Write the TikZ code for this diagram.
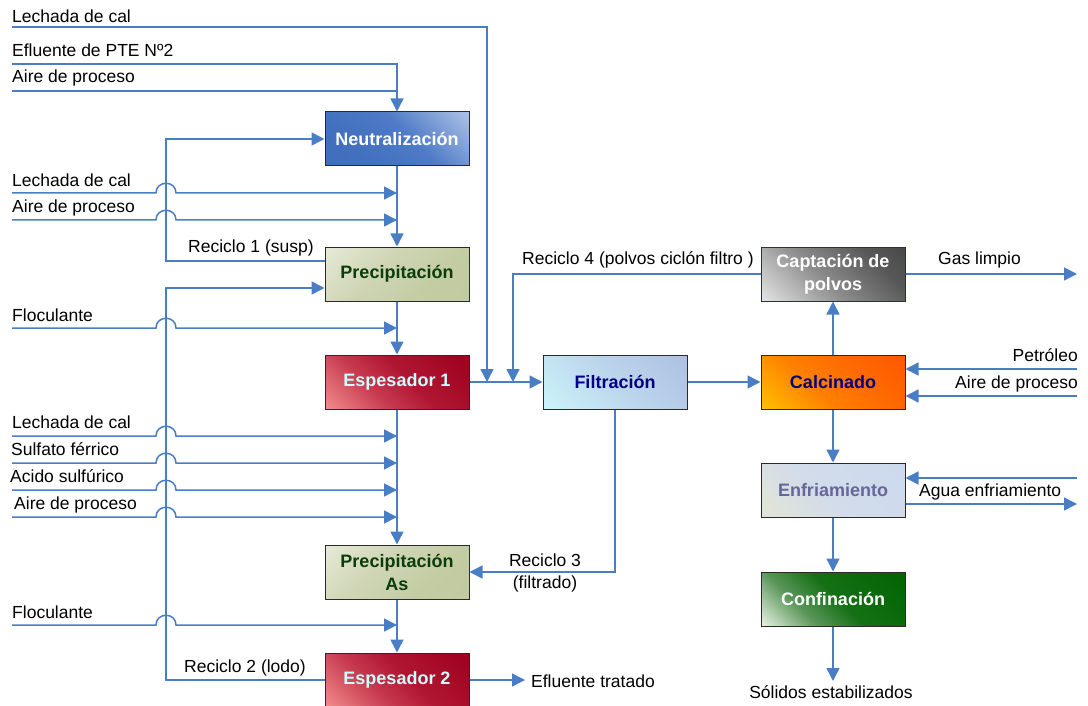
\documentclass[tikz,border=0pt]{standalone}
\usepackage{fontspec}
\setmainfont{Liberation Sans}
\usetikzlibrary{arrows.meta}
\definecolor{lc}{HTML}{4A7EC4}
\definecolor{preT}{HTML}{0A3D0A}
\definecolor{espT}{HTML}{CCFFFF}
\definecolor{navyT}{HTML}{000080}
\definecolor{capD}{HTML}{28286E}
\definecolor{enfT}{HTML}{66669A}
\definecolor{boxD}{HTML}{2A2A2A}
\pgfdeclareverticalshading{shNeu}{100bp}{color(0bp)=(rgb,255:red,62;green,108;blue,186); color(30bp)=(rgb,255:red,66;green,112;blue,190); color(55bp)=(rgb,255:red,78;green,122;blue,198); color(85bp)=(rgb,255:red,172;green,194;blue,230); color(100bp)=(rgb,255:red,180;green,200;blue,234)}
\pgfdeclareverticalshading{shPre}{100bp}{color(0bp)=(rgb,255:red,192;green,200;blue,158); color(35bp)=(rgb,255:red,196;green,204;blue,164); color(60bp)=(rgb,255:red,208;green,214;blue,182); color(85bp)=(rgb,255:red,230;green,234;blue,214); color(100bp)=(rgb,255:red,234;green,237;blue,220)}
\pgfdeclareverticalshading{shEsp}{100bp}{color(0bp)=(rgb,255:red,245;green,148;blue,148); color(15bp)=(rgb,255:red,242;green,140;blue,140); color(38bp)=(rgb,255:red,200;green,60;blue,80); color(55bp)=(rgb,255:red,176;green,22;blue,50); color(85bp)=(rgb,255:red,158;green,0;blue,30); color(100bp)=(rgb,255:red,156;green,0;blue,28)}
\pgfdeclareverticalshading{shFil}{100bp}{color(0bp)=(rgb,255:red,206;green,247;blue,250); color(15bp)=(rgb,255:red,204;green,244;blue,250); color(50bp)=(rgb,255:red,188;green,214;blue,236); color(85bp)=(rgb,255:red,174;green,192;blue,226); color(100bp)=(rgb,255:red,172;green,190;blue,225)}
\pgfdeclareverticalshading{shCap}{100bp}{color(0bp)=(rgb,255:red,235;green,235;blue,235); color(15bp)=(rgb,255:red,228;green,228;blue,228); color(45bp)=(rgb,255:red,140;green,140;blue,140); color(70bp)=(rgb,255:red,88;green,88;blue,88); color(85bp)=(rgb,255:red,72;green,72;blue,72); color(100bp)=(rgb,255:red,70;green,70;blue,70)}
\pgfdeclareverticalshading{shCal}{100bp}{color(0bp)=(rgb,255:red,255;green,198;blue,0); color(15bp)=(rgb,255:red,255;green,192;blue,0); color(40bp)=(rgb,255:red,255;green,130;blue,0); color(60bp)=(rgb,255:red,255;green,108;blue,0); color(85bp)=(rgb,255:red,255;green,88;blue,0); color(100bp)=(rgb,255:red,255;green,85;blue,0)}
\pgfdeclareverticalshading{shEnf}{100bp}{color(0bp)=(rgb,255:red,228;green,230;blue,210); color(15bp)=(rgb,255:red,226;green,229;blue,212); color(45bp)=(rgb,255:red,210;green,220;blue,234); color(85bp)=(rgb,255:red,204;green,217;blue,238); color(100bp)=(rgb,255:red,204;green,217;blue,238)}
\pgfdeclareverticalshading{shCon}{100bp}{color(0bp)=(rgb,255:red,240;green,248;blue,236); color(15bp)=(rgb,255:red,232;green,242;blue,226); color(35bp)=(rgb,255:red,90;green,150;blue,90); color(52bp)=(rgb,255:red,20;green,112;blue,20); color(85bp)=(rgb,255:red,0;green,100;blue,0); color(100bp)=(rgb,255:red,0;green,100;blue,0)}
\tikzset{
  pipe/.style={draw=lc, line width=1.5pt},
  flow/.style={pipe, -{Triangle[length=13pt,width=13pt]}},
  box/.style={draw=boxD, line width=1pt, minimum width=144pt, minimum height=54pt,
    inner sep=0pt, align=center, font=\bfseries\fontsize{18}{23}\selectfont},
  lab/.style={inner sep=0pt, anchor=base west, font=\fontsize{17.5}{21}\selectfont},
  labr/.style={lab, anchor=base east},
  labc/.style={lab, anchor=base},
  neustyle/.style={box, shade, shading=shNeu, shading angle=-45, text=white},
  prestyle/.style={box, shade, shading=shPre, shading angle=45, text=preT},
  espstyle/.style={box, shade, shading=shEsp, shading angle=-45, text=espT},
  filstyle/.style={box, shade, shading=shFil, shading angle=-45, text=navyT},
  capstyle/.style={box, draw=capD, shade, shading=shCap, shading angle=-45, text=white},
  calstyle/.style={box, shade, shading=shCal, shading angle=-45, text=navyT},
  enfstyle/.style={box, shade, shading=shEnf, shading angle=-45, text=enfT},
  constyle/.style={box, shade, shading=shCon, shading angle=-45, text=white},
}
\newcommand\hopin[2]{%
  \coordinate (s#1) at (12,#2);
  \coordinate (t#1) at (397,#2);
  \draw[flow] (s#1) -- (156,#2) .. controls (156,#2-13) and (176,#2-13) .. (176,#2) -- (t#1);
}
\begin{document}
\begin{tikzpicture}[x=1pt,y=-1pt]
\useasboundingbox (0,0) rectangle (1088,706);

% boxes
\node[neustyle] (neu) at (397,139) {Neutralización};
\node[prestyle] (pre) at (397,274) {Precipitación};
\node[espstyle] (es1) at (397,382) {Espesador 1};
\node[prestyle] (pas) at (397,572) {Precipitación\\As};
\node[espstyle] (es2) at (397,680) {Espesador 2};
\node[filstyle] (fil) at (615,382) {Filtración};
\node[capstyle] (cap) at (833,274) {Captación de\\polvos};
\node[calstyle] (cal) at (833,382) {Calcinado};
\node[enfstyle] (enf) at (833,490) {Enfriamiento};
\node[constyle] (con) at (833,599) {Confinación};

% top inputs
\coordinate (lc0) at (12,27);
\coordinate (lc0j) at (487,382);
\draw[flow] (lc0) -- (487,27) -- (lc0j);
\coordinate (ef0) at (12,64);
\draw[flow] (ef0) -- (397,64) -- (neu.north);
\coordinate (ai0) at (12,91);
\draw[pipe] (ai0) -- (397,91);

% hop inputs
\hopin{1}{193}
\hopin{2}{220}
\hopin{3}{328}
\hopin{4}{436}
\hopin{5}{463}
\hopin{6}{490}
\hopin{7}{517}
\hopin{8}{625}

% main vertical flow
\draw[flow] (neu.south) -- (pre.north);
\draw[flow] (pre.south) -- (es1.north);
\draw[flow] (es1.south) -- (pas.north);
\draw[flow] (pas.south) -- (es2.north);

% recycles
\draw[flow] ([yshift=13pt]pre.west) -| (166,139) -- (neu.west);
\draw[flow] (es2.west) -| (166,288) -- ([yshift=-14pt]pre.west);
\draw[flow] (es1.east) -- (fil.west);
\coordinate (r4j) at (513,382);
\draw[flow] (cap.west) -| (r4j);
\draw[flow] (fil.south) |- (pas.east);
\draw[flow] (fil.east) -- (cal.west);
\draw[flow] (cal.north) -- (cap.south);
\draw[flow] (cal.south) -- (enf.north);
\draw[flow] (enf.south) -- (con.north);

% outputs
\coordinate (eft) at (525,680);
\draw[flow] (es2.east) -- (eft);
\coordinate (gas) at (1077,274);
\draw[flow] (cap.east) -- (gas);
\coordinate (sol) at (833,681);
\draw[flow] (con.south) -- (sol);
\coordinate (pet) at (1077,369);
\draw[flow] (pet) -- (pet -| cal.east);
\coordinate (aic) at (1077,396);
\draw[flow] (aic) -- (aic -| cal.east);
\coordinate (agi) at (1077,478);
\draw[flow] (agi) -- (agi -| enf.east);
\coordinate (ago) at (1077,504);
\draw[flow] (ago -| enf.east) -- (ago);

% labels
\node[lab] (l1) at (12,23) {Lechada de cal};
\node[lab] (l2) at (12,57) {Efluente de PTE Nº2};
\node[lab] (l3) at (12,83) {Aire de proceso};
\node[lab] (l4) at (12,186) {Lechada de cal};
\node[lab] (l5) at (12,212) {Aire de proceso};
\node[lab] (l6) at (188,252) {Reciclo 1 (susp)};
\node[lab] (l7) at (12,321) {Floculante};
\node[lab] (l8) at (12,428) {Lechada de cal};
\node[lab] (l9) at (11,455) {Sulfato férrico};
\node[lab] (l10) at (10,482) {Acido sulfúrico};
\node[lab] (l11) at (14,509) {Aire de proceso};
\node[lab] (l12) at (12,618) {Floculante};
\node[lab] (l13) at (184,672) {Reciclo 2 (lodo)};
\node[lab] (l14) at (531,687) {Efluente tratado};
\node[labc] (l15) at (545,566) {Reciclo 3};
\node[labc] (l16) at (545,588) {(filtrado)};
\node[lab] (l17) at (522,265) {Reciclo 4 (polvos ciclón filtro )};
\node[lab] (l18) at (938,265) {Gas limpio};
\node[labr] (l19) at (1078,361) {Petróleo};
\node[labr] (l20) at (1078,388) {Aire de proceso};
\node[lab] (l21) at (919,496) {Agua enfriamiento};
\node[labc] (l22) at (831,698) {Sólidos estabilizados};
\end{tikzpicture}
\end{document}
